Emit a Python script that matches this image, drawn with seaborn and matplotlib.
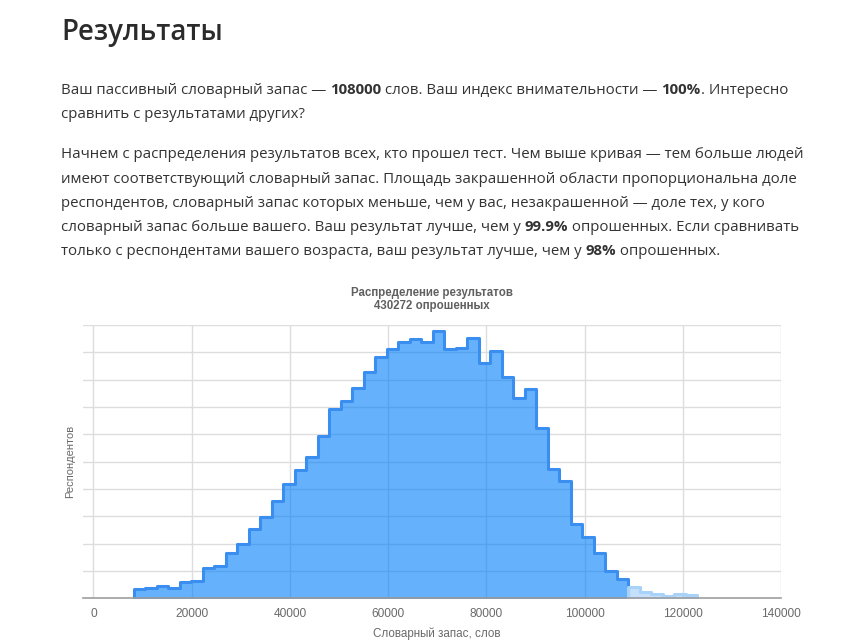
import numpy as np
import pandas as pd
import matplotlib
matplotlib.use("Agg")
import matplotlib.pyplot as plt
from matplotlib.font_manager import FontProperties
import seaborn as sns

# histogram of respondents by vocabulary size
bin_start = 8260
bin_width = 2340
counts_below = [660, 730, 900, 730, 1220, 1290, 2200, 2370, 3290, 3950,
                5050, 5930, 7120, 8340, 9390, 10370, 11880, 13830, 14460, 15370,
                16540, 17680, 18220, 18730, 18980, 18730, 19590, 18220, 18340, 19020,
                17200, 18120, 16220, 14630, 15290, 12440, 9460, 8610, 5440, 4510,
                3290, 2000, 1410]
counts_above = [850, 440, 320, 200, 320, 240]
x_ticks = [0, 20000, 40000, 60000, 80000, 100000, 120000, 140000]

page_title = "Результаты"
para1 = [
    [("Ваш пассивный словарный запас — ", False), ("108000", True),
     (" слов. Ваш индекс внимательности — ", False), ("100%", True), (". Интересно", False)],
    [("сравнить с результатами других?", False)],
]
para2 = [
    [("Начнем с распределения результатов всех, кто прошел тест. Чем выше кривая — тем больше людей", False)],
    [("имеют соответствующий словарный запас. Площадь закрашенной области пропорциональна доле", False)],
    [("респондентов, словарный запас которых меньше, чем у вас, незакрашенной — доле тех, у кого", False)],
    [("словарный запас больше вашего. Ваш результат лучше, чем у ", False), ("99.9%", True),
     (" опрошенных. Если сравнивать", False)],
    [("только с респондентами вашего возраста, ваш результат лучше, чем у ", False), ("98%", True),
     (" опрошенных.", False)],
]

n_bins = len(counts_below) + len(counts_above)
edges = [bin_start + bin_width * i for i in range(n_bins + 1)]
centers = [e + bin_width / 2 for e in edges[:-1]]
df = pd.DataFrame({
    "slov": centers,
    "resp": counts_below + counts_above,
    "part": ["below"] * len(counts_below) + ["above"] * len(counts_above),
})

sns.set_style("white")
plt.rcParams["font.family"] = ["Liberation Sans", "DejaVu Sans"]

W, H = 862, 643
fig = plt.figure(figsize=(W / 100, H / 100), dpi=100)
ax = fig.add_axes([82.7 / W, 1 - 598.3 / H, (781 - 82.7) / W, (598.3 - 325) / H])

nb = len(counts_below)
sns.histplot(data=df[df.part == "below"], x="slov", weights="resp", bins=edges[:nb + 1],
             element="step", fill=True, ax=ax,
             facecolor=(0, 125 / 255, 250 / 255, 0.6), edgecolor="#3a8ef0", linewidth=2.2)
sns.histplot(data=df[df.part == "above"], x="slov", weights="resp", bins=edges[nb:],
             element="step", fill=True, ax=ax,
             facecolor=(0, 125 / 255, 250 / 255, 0.23), edgecolor="#a9d2f9", linewidth=2.2)

ax.set_xlim(-2180, 140000)
ax.set_ylim(0, 20000)
ax.set_xticks(x_ticks)
ax.set_xticklabels([str(t) for t in x_ticks])
ax.set_yticks(range(0, 20001, 2000))
ax.set_yticklabels([])
ax.tick_params(axis="both", length=0)
ax.tick_params(axis="x", pad=7, labelsize=8.6, labelcolor="#6a6a6a")
ax.grid(True, color="#dddddd", linewidth=1)
ax.set_axisbelow(True)
for s in ["top", "left", "right"]:
    ax.spines[s].set_visible(False)
ax.spines["bottom"].set_color("#9e9e9e")
ax.spines["bottom"].set_linewidth(1.2)
ax.set_xlabel("")
ax.set_ylabel("")

fig.text(437 / W, 1 - 634 / H, "Словарный запас, слов", ha="center", va="center",
         fontsize=8.4, color="#6a6a6a")
fig.text(70 / W, 1 - 461 / H, "Респондентов", ha="center", va="center", rotation=90,
         fontsize=8.0, color="#6a6a6a")
fig.text(432 / W, 1 - 293 / H, "Распределение результатов", ha="center", va="center",
         fontsize=8.3, fontweight="bold", color="#606060")
fig.text(432 / W, 1 - 306 / H, "430272 опрошенных", ha="center", va="center",
         fontsize=8.3, fontweight="bold", color="#606060")

# page text above the chart
renderer = fig.canvas.get_renderer()
body = ["Open Sans", "DejaVu Sans"]


def advance(txt, prop):
    # width including spaces at the ends: measure between two bars
    w1 = renderer.get_text_width_height_descent("|" + txt + "|", prop, ismath=False)[0]
    w0 = renderer.get_text_width_height_descent("||", prop, ismath=False)[0]
    return w1 - w0


def put_line(x, y, parts, size=10.8):
    for txt, bold in parts:
        prop = FontProperties(family=body, size=size, weight="bold" if bold else "normal")
        fig.text(x / W, 1 - y / H, txt, fontproperties=prop, color="#333333",
                 ha="left", va="baseline")
        x += advance(txt, prop)


fig.text(61 / W, 1 - 40 / H, page_title, fontsize=19.8, family=body,
         fontweight="semibold", color="#2b2b2b", ha="left", va="baseline")

y = 94
for line in para1:
    put_line(61, y, line)
    y += 24.2
y = 158.5
for line in para2:
    put_line(61, y, line)
    y += 24.2

fig.savefig("out.png", dpi=100)
